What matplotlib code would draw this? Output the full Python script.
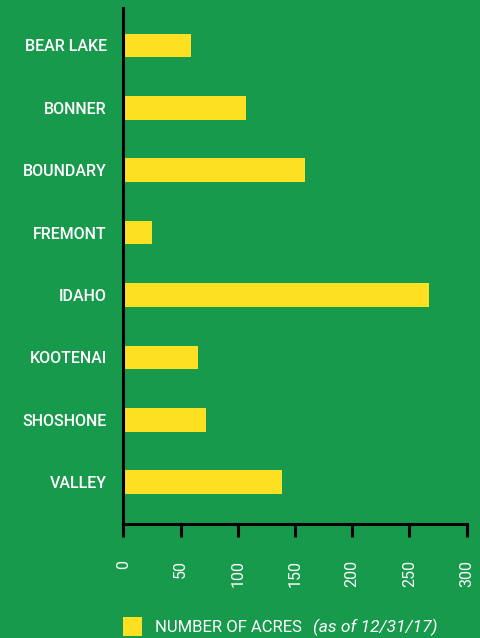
import matplotlib.pyplot as plt
import matplotlib.patches as patches

counties = ['BEAR LAKE', 'BONNER', 'BOUNDARY', 'FREMONT', 'IDAHO', 'KOOTENAI', 'SHOSHONE', 'VALLEY']
acres = [59, 107, 159, 25, 267, 65, 72, 139]
ticks = [0, 50, 100, 150, 200, 250, 300]

green = '#179a4b'
yellow = '#fde021'
plt.rcParams['font.family'] = ['Roboto', 'DejaVu Sans']

fig = plt.figure(figsize=(4.81, 6.38), dpi=100, facecolor=green)
ax = fig.add_axes([0.2564, 0.1787, 0.7136, 0.8088])
ax.set_facecolor(green)

pos = list(range(len(counties)))
ax.barh(pos, acres, height=0.38, color=yellow, zorder=1)
ax.set_ylim(len(counties) - 1 + 0.67, -0.6)
ax.set_xlim(0, 300)

for s in ['top', 'right']:
    ax.spines[s].set_visible(False)
for s in ['left', 'bottom']:
    ax.spines[s].set_linewidth(2.2)
    ax.spines[s].set_color('black')
    ax.spines[s].set_zorder(3)

ax.set_yticks(pos)
ax.set_yticklabels(counties, color='white', fontsize=11.5, fontweight='medium')
ax.tick_params(axis='y', length=0, pad=12)
ax.set_xticks(ticks)
ax.set_xticklabels([str(t) for t in ticks], rotation=90, color='white', fontsize=11.5)
ax.tick_params(axis='x', length=9, width=2.2, color='black', pad=17, direction='out')

# legend
fig.patches.append(patches.Rectangle((123 / 481, 2 / 638), 19 / 481, 19 / 638,
                                     transform=fig.transFigure, facecolor=yellow,
                                     edgecolor='none'))
fig.text(155 / 481, 11 / 638, 'NUMBER OF ACRES', color='white', fontsize=12,
         va='center', ha='left')
fig.text(313 / 481, 11 / 638, '(as of 12/31/17)', color='white', fontsize=12.5,
         va='center', ha='left', style='italic')

fig.savefig('out.png', dpi=100, facecolor=green)
